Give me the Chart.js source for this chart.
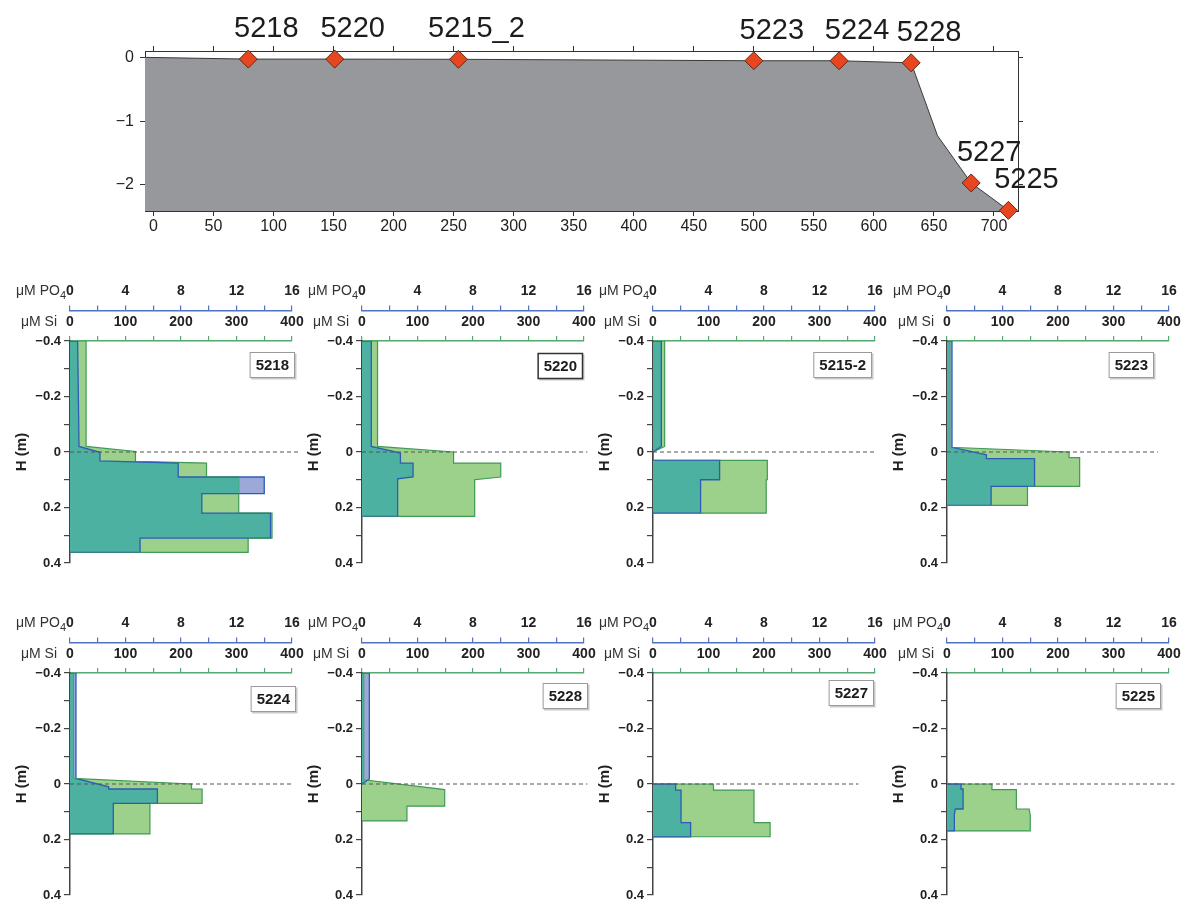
<!DOCTYPE html>
<html><head><meta charset="utf-8">
<script src="https://cdn.jsdelivr.net/npm/chart.js@4.4.1/dist/chart.umd.min.js"></script>
<style>
html,body{margin:0;padding:0;background:#fff;overflow:hidden;width:1183px;height:901px;position:relative;}
canvas{position:absolute;}
</style></head><body>
<canvas id="transect" width="1183" height="240" style="left:0;top:0"></canvas>
<script>
// ---------------- DATA ----------------
// Transect (top chart)
const transectDist = [-7, 79, 151, 254, 500, 571, 631, 653, 681, 712];
const transectElev = [0, -0.027, -0.027, -0.03, -0.053, -0.053, -0.085, -1.23, -1.97, -2.40];
const stationNames = ['5218', '5220', '5215_2', '5223', '5224', '5228', '5227', '5225'];
const stationDist = [79, 151, 254, 500, 571, 631, 681, 712];
const stationElev = [-0.027, -0.027, -0.03, -0.053, -0.053, -0.085, -1.97, -2.40];
const transectXTicks = [0, 50, 100, 150, 200, 250, 300, 350, 400, 450, 500, 550, 600, 650, 700];
const transectYTicks = [0, -1, -2];

// Panel profiles: [value, depth H (m)]
const si_5218 = [[0,-0.4],[29,-0.4],[29,-0.02],[118,-0.002],[118,0.034],[246,0.04],[246,0.09],[304,0.09],[304,0.22],[364,0.22],[364,0.31],[321,0.31],[321,0.362],[0,0.362]];
const po4_5218 = [[0,-0.4],[0.55,-0.4],[0.65,-0.02],[2.16,0.001],[2.16,0.032],[7.8,0.04],[7.8,0.09],[14.0,0.09],[14.0,0.15],[9.5,0.15],[9.5,0.22],[14.45,0.22],[14.45,0.31],[5.05,0.31],[5.05,0.362],[0,0.362]];
const si_5220 = [[0,-0.4],[28,-0.4],[28,-0.02],[165,0.0],[165,0.04],[250,0.04],[250,0.09],[203,0.1],[203,0.232],[0,0.232]];
const po4_5220 = [[0,-0.4],[0.67,-0.4],[0.67,-0.02],[2.77,0.004],[2.77,0.04],[3.68,0.04],[3.68,0.09],[2.57,0.097],[2.57,0.232],[0,0.232]];
const si_5215_2 = [[0,-0.4],[21,-0.4],[21,-0.02],[0,0],[0,0.03],[206,0.03],[206,0.1],[204,0.1],[204,0.22],[0,0.22]];
const po4_5215_2 = [[0,-0.4],[0.6,-0.4],[0.6,-0.02],[0,0],[0,0.03],[4.8,0.03],[4.8,0.1],[3.43,0.1],[3.43,0.22],[0,0.22]];
const si_5223 = [[0,-0.4],[5,-0.4],[5,-0.017],[220,0],[220,0.02],[239,0.02],[239,0.124],[145,0.124],[145,0.192],[0,0.192]];
const po4_5223 = [[0,-0.4],[0.36,-0.4],[0.36,-0.017],[2.84,0.01],[2.84,0.024],[6.31,0.024],[6.31,0.124],[3.18,0.124],[3.18,0.192],[0,0.192]];
const si_5224 = [[0,-0.4],[6,-0.4],[6,-0.02],[219,0],[219,0.018],[238,0.018],[238,0.07],[144,0.07],[144,0.18],[0,0.18]];
const po4_5224 = [[0,-0.4],[0.43,-0.4],[0.43,-0.02],[2.79,0.01],[2.79,0.018],[6.3,0.018],[6.3,0.07],[3.12,0.07],[3.12,0.18],[0,0.18]];
const si_5228 = [[0,-0.4],[3,-0.4],[3,-0.015],[149,0.02],[149,0.08],[81,0.08],[81,0.133],[0,0.133]];
const po4_5228 = [[0,-0.4],[0.53,-0.4],[0.53,-0.018],[0,0]];
const si_5227 = [[0,0],[109,0],[109,0.022],[182,0.022],[182,0.139],[211,0.139],[211,0.19],[0,0.19]];
const po4_5227 = [[0,0],[1.63,0],[1.63,0.022],[2.02,0.022],[2.02,0.139],[2.71,0.139],[2.71,0.19],[0,0.19]];
const si_5225 = [[0,0],[81,0],[81,0.02],[125,0.02],[125,0.09],[148,0.09],[150,0.112],[150,0.169],[0,0.169]];
const po4_5225 = [[0,0],[1.01,0],[1.01,0.018],[1.16,0.018],[1.16,0.09],[0.6,0.09],[0.53,0.11],[0.53,0.169],[0,0.169]];

const panelIds = ['5218', '5220', '5215-2', '5223', '5224', '5228', '5227', '5225'];
const siProfiles = [si_5218, si_5220, si_5215_2, si_5223, si_5224, si_5228, si_5227, si_5225];
const po4Profiles = [po4_5218, po4_5220, po4_5215_2, po4_5223, po4_5224, po4_5228, po4_5227, po4_5225];
const zeroLineEnd = [411, 406, 402, 380, 400, 406, 370, 410];

const po4Ticks = [0, 2, 4, 6, 8, 10, 12, 14, 16];
const po4Labels = [0, 4, 8, 12, 16];
const siTicks = [0, 50, 100, 150, 200, 250, 300, 350, 400];
const siLabels = [0, 100, 200, 300, 400];
const depthTicks = [-0.4, -0.3, -0.2, -0.1, 0, 0.1, 0.2, 0.3, 0.4];
const depthLabels = [-0.4, -0.2, 0, 0.2, 0.4];

// ---------------- STYLE / LAYOUT ----------------
const FONT = '"Liberation Sans", Arial, Helvetica, sans-serif';
const C = {
  gray: '#97989c', grayLine: '#3a3a3a', red: '#e8461f', redEdge: '#5b2a18',
  green: '#9bd18b', greenEdge: '#3f9a55', teal: '#4cb1a0', lav: '#9ca8d8', blue: '#2c5cb5',
  axisBlue: '#4f72c4', axisGreen: '#55a872', axisDark: '#444', text: '#222'
};
const panelCanvasLeft = [0, 292, 583, 877];
const panelCanvasTop = [280, 612];
const boxLayout = [
  {dx: 3, dy: 11, edge: '#9a9a9a', lw: 1},
  {dx: -1, dy: 12, edge: '#333', lw: 1.5},
  {dx: -3, dy: 11, edge: '#9a9a9a', lw: 1},
  {dx: -15, dy: 11, edge: '#9a9a9a', lw: 1},
  {dx: 4, dy: 13, edge: '#9a9a9a', lw: 1},
  {dx: 4, dy: 10, edge: '#9a9a9a', lw: 1},
  {dx: -1, dy: 7, edge: '#9a9a9a', lw: 1},
  {dx: -8, dy: 10, edge: '#9a9a9a', lw: 1}
];

const minus = v => (v < 0 ? '\u2212' : '') + Math.abs(v);

// ---------------- TOP TRANSECT ----------------
const stationLabelPlugin = {
  id: 'stationLabels',
  afterDatasetsDraw(chart) {
    const ctx = chart.ctx;
    const meta = chart.getDatasetMeta(0);
    ctx.save();
    ctx.font = '29px ' + FONT;
    ctx.fillStyle = '#1c1c1c';
    ctx.textAlign = 'center';
    ctx.textBaseline = 'middle';
    meta.data.forEach((pt, i) => ctx.fillText(stationNames[i], pt.x + 18, pt.y - 30));
    ctx.restore();
  }
};

const frameAxis = (extra) => Object.assign({
  type: 'linear',
  grid: {drawOnChartArea: false, drawTicks: true, tickLength: 5, color: '#333', lineWidth: 1},
  border: {display: true, color: '#333', width: 1}
}, extra);

new Chart(document.getElementById('transect'), {
  type: 'line',
  data: {
    datasets: [
      {
        data: stationDist.map((x, i) => ({x, y: stationElev[i]})),
        showLine: false, pointStyle: 'rectRot', pointRadius: 9, pointHoverRadius: 9,
        pointBackgroundColor: C.red, pointBorderColor: C.redEdge, pointBorderWidth: 1,
        clip: false, order: 0
      },
      {
        data: transectDist.map((x, i) => ({x, y: transectElev[i]})),
        fill: 'start', backgroundColor: C.gray, borderColor: C.grayLine, borderWidth: 1,
        pointRadius: 0, tension: 0, order: 1
      }
    ]
  },
  options: {
    responsive: false, animation: false, devicePixelRatio: 1, events: [],
    layout: {padding: {left: 100, right: 155, top: 41, bottom: 0}},
    plugins: {legend: {display: false}, tooltip: {enabled: false}},
    scales: {
      x: frameAxis({
        axis: 'x', position: 'bottom', min: -7, max: 720,
        afterBuildTicks: s => { s.ticks = transectXTicks.map(v => ({value: v})); },
        afterFit: s => { s.height = 29; },
        ticks: {autoSkip: false, maxRotation: 0, padding: 1, color: C.text, font: {family: FONT, size: 16}}
      }),
      x2: frameAxis({
        axis: 'x', position: 'top', min: -7, max: 720,
        afterBuildTicks: s => { s.ticks = transectXTicks.map(v => ({value: v})); },
        afterFit: s => { s.height = 10; },
        ticks: {autoSkip: false, maxRotation: 0, callback: () => ''}
      }),
      y: frameAxis({
        axis: 'y', position: 'left', min: -2.41, max: 0.1,
        afterBuildTicks: s => { s.ticks = transectYTicks.map(v => ({value: v})); },
        afterFit: s => { s.width = 45; },
        ticks: {autoSkip: false, padding: 6, color: C.text, font: {family: FONT, size: 16}, callback: v => minus(v)}
      }),
      y2: frameAxis({
        axis: 'y', position: 'right', min: -2.41, max: 0.1,
        afterBuildTicks: s => { s.ticks = transectYTicks.map(v => ({value: v})); },
        afterFit: s => { s.width = 10; },
        ticks: {autoSkip: false, callback: () => ''}
      })
    }
  },
  plugins: [stationLabelPlugin]
});

// ---------------- PROFILE PANELS ----------------
function makePanel(i) {
  const col = i % 4, row = Math.floor(i / 4);
  const cv = document.createElement('canvas');
  cv.width = 312; cv.height = 296;
  cv.style.left = panelCanvasLeft[col] + 'px';
  cv.style.top = panelCanvasTop[row] + 'px';
  document.body.appendChild(cv);
  const toPts = arr => arr.map(p => ({x: p[0], y: p[1]}));
  const box = boxLayout[i];

  const decor = {
    id: 'panelDecor',
    afterDatasetDraw(chart, args) {
      const ctx = chart.ctx;
      if (args.index === 2) {
        // clip the overlap (teal) PO4 layer to the Si shape
        const pts = chart.getDatasetMeta(2).data;
        ctx.save();
        ctx.beginPath();
        pts.forEach((p, k) => k ? ctx.lineTo(p.x, p.y) : ctx.moveTo(p.x, p.y));
        ctx.closePath();
        ctx.clip();
      } else if (args.index === 1) {
        ctx.restore();
      }
    },
    afterDraw(chart) {
      const ctx = chart.ctx;
      const area = chart.chartArea;
      const sPO = chart.scales.xPO4, sSi = chart.scales.xSi;
      ctx.save();
      ctx.fillStyle = '#333';
      ctx.textBaseline = 'middle';
      ctx.textAlign = 'right';
      // μM PO4 with subscript
      const yPO = sPO.bottom - 19;
      ctx.font = '11px ' + FONT;
      const subW = ctx.measureText('4').width;
      ctx.fillText('4', area.left - 4, yPO + 4);
      ctx.font = '14px ' + FONT;
      ctx.fillText('\u03bcM PO', area.left - 4 - subW, yPO);
      ctx.fillText('\u03bcM Si', area.left - 13, sSi.bottom - 19);
      // station box
      ctx.font = 'bold 15px ' + FONT;
      const w = ctx.measureText(panelIds[i]).width + 12, h = 26;
      const x = area.right + box.dx - w, y = area.top + box.dy;
      ctx.fillStyle = '#c9c9c9';
      ctx.fillRect(x + 1.5, y + 1.5, w, h);
      ctx.fillStyle = '#fff';
      ctx.fillRect(x, y, w, h);
      ctx.strokeStyle = box.edge; ctx.lineWidth = box.lw;
      ctx.strokeRect(x + 0.5, y + 0.5, w - 1, h - 1);
      ctx.fillStyle = '#1c1c1c';
      ctx.textAlign = 'center';
      ctx.fillText(panelIds[i], x + w / 2, y + h / 2 + 1);
      ctx.restore();
    }
  };

  const topAxis = (color, extra) => Object.assign({
    type: 'linear', axis: 'x', position: 'top',
    afterFit: s => { s.height = 30.5; },
    grid: {drawOnChartArea: false, drawTicks: true, tickLength: 5, color: color, lineWidth: 1.2},
    border: {display: true, color: color, width: 1.5}
  }, extra);

  new Chart(cv, {
    type: 'line',
    data: {
      datasets: [
        { // zero (surface) line
          data: [{x: 0, y: 0}, {x: zeroLineEnd[i], y: 0}], xAxisID: 'xSi', yAxisID: 'y',
          borderColor: '#555', borderWidth: 1, borderDash: [4, 3], pointRadius: 0, fill: false, clip: false, order: 0
        },
        { // PO4 where it overlaps Si
          data: toPts(po4Profiles[i]), xAxisID: 'xPO4', yAxisID: 'y',
          fill: 'shape', backgroundColor: C.teal, borderColor: C.blue, borderWidth: 1.3, pointRadius: 0, tension: 0, order: 1
        },
        { // Si
          data: toPts(siProfiles[i]), xAxisID: 'xSi', yAxisID: 'y',
          fill: 'shape', backgroundColor: C.green, borderColor: C.greenEdge, borderWidth: 1.2, pointRadius: 0, tension: 0, order: 2
        },
        { // PO4
          data: toPts(po4Profiles[i]), xAxisID: 'xPO4', yAxisID: 'y',
          fill: 'shape', backgroundColor: C.lav, borderColor: C.blue, borderWidth: 1.3, pointRadius: 0, tension: 0, order: 3
        }
      ]
    },
    options: {
      responsive: false, animation: false, devicePixelRatio: 1, events: [],
      layout: {padding: {left: 0, right: 20, top: 0, bottom: 13}},
      plugins: {legend: {display: false}, tooltip: {enabled: false}},
      scales: {
        xPO4: topAxis(C.axisBlue, {
          min: 0, max: 16, weight: 1,
          afterBuildTicks: s => { s.ticks = po4Ticks.map(v => ({value: v})); },
          ticks: {autoSkip: false, maxRotation: 0, padding: 5.5, color: C.text,
            font: {family: FONT, size: 14, weight: 'bold'},
            callback: v => po4Labels.includes(v) ? String(v) : ''}
        }),
        xSi: topAxis(C.axisGreen, {
          min: 0, max: 400, weight: 0,
          afterBuildTicks: s => { s.ticks = siTicks.map(v => ({value: v})); },
          ticks: {autoSkip: false, maxRotation: 0, padding: 5.5, color: C.text,
            font: {family: FONT, size: 14, weight: 'bold'},
            callback: v => siLabels.includes(v) ? String(v) : ''}
        }),
        y: {
          type: 'linear', position: 'left', min: -0.4, max: 0.4, reverse: true,
          afterBuildTicks: s => { s.ticks = depthTicks.map(v => ({value: v})); },
          afterFit: s => { s.width = 70; },
          grid: {drawOnChartArea: false, drawTicks: true, tickLength: 6, color: C.axisDark, lineWidth: 1.2},
          border: {display: true, color: C.axisDark, width: 1.5},
          ticks: {autoSkip: false, padding: 3, color: C.text, font: {family: FONT, size: 13, weight: 'bold'},
            callback: v => {
              const t = Math.round(v * 10);
              if (!depthLabels.some(d => Math.round(d * 10) === t)) return '';
              if (t === 0) return '0';
              return (t < 0 ? '\u2212' : '') + (Math.abs(t) / 10).toFixed(1);
            }},
          title: {display: true, text: 'H (m)', color: C.text, font: {family: FONT, size: 15, weight: 'bold'},
            padding: {top: 13, bottom: 0}}
        }
      }
    },
    plugins: [decor]
  });
}
for (let i = 0; i < panelIds.length; i++) makePanel(i);
</script>
</body></html>
